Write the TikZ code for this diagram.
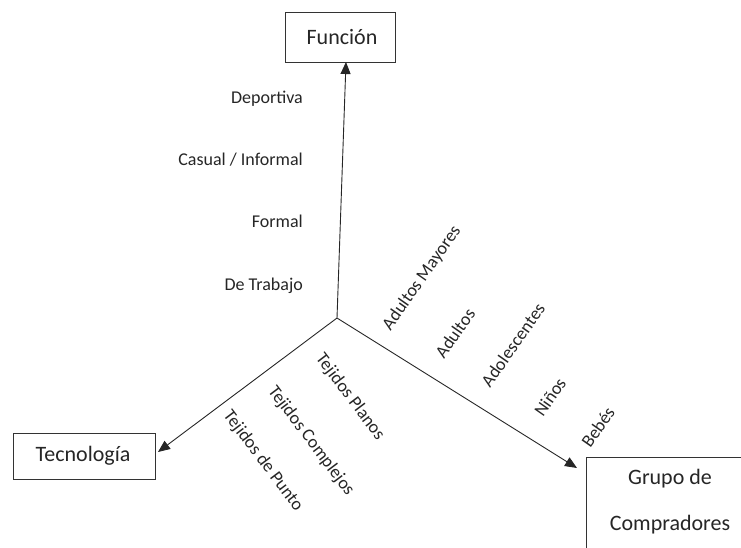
\documentclass[tikz,border=0pt]{standalone}
\usepackage{fontspec}
\setmainfont{Carlito}
\usetikzlibrary{arrows.meta}
\begin{document}
\begin{tikzpicture}[x=1pt,y=-1pt,
  axis/.style={draw=black!85,line width=0.9pt,-{Triangle[length=12pt,width=10pt]}},
  titlebox/.style={draw=black!80,line width=0.9pt,fill=white,font=\fontsize{22}{26}\selectfont},
  lbl/.style={font=\fontsize{18}{22}\selectfont,inner sep=0pt,text=black!85},
  ttl/.style={font=\fontsize{22}{46}\selectfont,inner sep=0pt,text=black!85,align=center}]
\useasboundingbox (0,0) rectangle (741,547);
\clip (0,0) rectangle (741,547);
% boxes
\node[titlebox,minimum width=110pt,minimum height=50pt] (fun) at (340,37) {};
\node[ttl] at (342,37) {Función};
\node[titlebox,minimum width=142pt,minimum height=46pt] (tec) at (84,456) {};
\node[ttl] at (83,456) {Tecnología};
\draw[draw=black!80,line width=0.9pt,fill=white] (586,457) rectangle (760,560);
\node[ttl] (gru) at (670,502) {Grupo de\\Compradores};
% axes
\coordinate (o) at (337,318);
\coordinate (tfun) at (346,62);
\coordinate (ttec) at (158,452);
\coordinate (tgru) at (577,468);
\draw[axis] (o) -- (tfun);
\draw[axis] (o) -- (ttec);
\draw[axis] (o) -- (tgru);
% function labels
\node[lbl,anchor=base east] (f1) at (303,103) {Deportiva};
\node[lbl,anchor=base east] (f2) at (303,165) {Casual / Informal};
\node[lbl,anchor=base east] (f3) at (303,227) {Formal};
\node[lbl,anchor=base east] (f4) at (303,290) {De Trabajo};
% buyer labels
\node[lbl,rotate=55] (g1) at (422,278) {Adultos Mayores};
\node[lbl,rotate=55] (g2) at (455,333) {Adultos};
\node[lbl,rotate=55] (g3) at (513,345) {Adolescentes};
\node[lbl,rotate=55] (g4) at (550,397) {Niños};
\node[lbl,rotate=55] (g5) at (598,427) {Bebés};
% technology labels
\node[lbl,rotate=-53] (t1) at (350,397) {Tejidos Planos};
\node[lbl,rotate=-53] (t2) at (311,441) {Tejidos Complejos};
\node[lbl,rotate=-53] (t3) at (263,461) {Tejidos de Punto};
\end{tikzpicture}
\end{document}
